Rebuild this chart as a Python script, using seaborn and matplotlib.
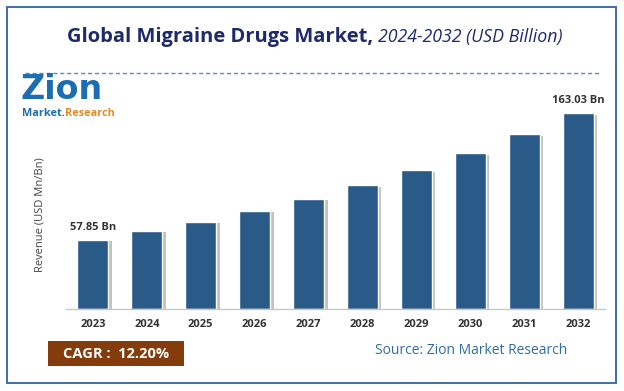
import matplotlib
matplotlib.use('Agg')
import matplotlib.pyplot as plt
import matplotlib.patheffects as pe
from matplotlib.patches import Rectangle
from matplotlib.text import Annotation
import pandas as pd
import seaborn as sns

# data
years = ['2023', '2024', '2025', '2026', '2027', '2028', '2029', '2030', '2031', '2032']
revenue = [57.85, 64.9, 72.8, 81.7, 91.7, 102.9, 115.4, 129.5, 145.3, 163.03]
bar_labels = {0: '57.85 Bn', 9: '163.03 Bn'}
cagr_text = 'CAGR :  12.20%'
source_text = 'Source: Zion Market Research'

BAR_COLOR = '#2A5A88'
NAVY = '#1F2A6B'

sns.set_style('white')
plt.rcParams['font.family'] = ['Open Sans', 'DejaVu Sans']

df = pd.DataFrame({'Year': years, 'Revenue': revenue})

fig = plt.figure(figsize=(6.24, 3.91), dpi=100)
W, H = 624, 391


def fx(px):
    return px / W


def fy(py):
    return 1 - py / H


# outer frame
fig.patches.append(Rectangle((fx(7), fy(383)), fx(616) - fx(7), fy(7) - fy(383),
                             transform=fig.transFigure, fill=False,
                             edgecolor='#3F6FA6', lw=1.4))

# dashed separator under title
fig.add_artist(plt.Line2D([fx(25), fx(600)], [fy(73), fy(73)], transform=fig.transFigure,
                          color='#5B8BC6', lw=1, ls=(0, (3, 2))))

# title in two parts
fig.text(fx(373), fy(37), 'Global Migraine Drugs Market,', ha='right', va='center',
         fontsize=14.5, fontweight='bold', color=NAVY)
fig.text(fx(378), fy(37), '2024-2032 (USD Billion)', ha='left', va='center',
         fontsize=12.8, fontstyle='italic', color=NAVY)

# logo (text approximation)
fig.text(fx(20), fy(99), 'Zion', ha='left', va='baseline', fontsize=24,
         fontweight='bold', color='#1C6DB4', family=['DejaVu Sans'])
t_market = fig.text(fx(22), fy(113), 'Market.', ha='left', va='center', fontsize=7.8,
                    fontweight='bold', color='#1C6DB4')
fig.add_artist(Annotation('Research', xy=(1, 0.5), xycoords=t_market, ha='left', va='center',
                          fontsize=7.8, fontweight='bold', color='#E58A1F'))

# chart
ax = fig.add_axes([fx(66), fy(309), fx(605) - fx(66), fy(100) - fy(309)])
sns.barplot(data=df, x='Year', y='Revenue', color=BAR_COLOR, width=0.575,
            saturation=1, ax=ax)
for p in ax.patches:
    p.set_path_effects([pe.SimplePatchShadow(offset=(2.5, -1), shadow_rgbFace='#9a9a9a', alpha=0.6),
                        pe.Normal()])

ax.set_ylim(0, 174)
ax.set_xlim(-0.5, len(years) - 0.5)
ax.set_yticks([])
ax.set_xlabel('')
ax.set_ylabel('')
for s in ['top', 'right', 'left']:
    ax.spines[s].set_visible(False)
ax.spines['bottom'].set_color('#C8C8C8')
ax.spines['bottom'].set_linewidth(1)
ax.tick_params(axis='x', length=0, pad=7)
for t in ax.get_xticklabels():
    t.set_fontsize(8)
    t.set_fontweight('bold')
    t.set_color('#333333')

for i, lab in bar_labels.items():
    ax.annotate(lab, (i, revenue[i]), xytext=(0, 5), textcoords='offset points',
                ha='center', va='bottom', fontsize=8, fontweight='bold', color='#333333')

fig.text(fx(40), fy(215), 'Revenue (USD Mn/Bn)', rotation=90, ha='center', va='center',
         fontsize=8, color='#444444')

# CAGR box
fig.patches.append(Rectangle((fx(48), fy(366)), fx(184) - fx(48), fy(341) - fy(366),
                             transform=fig.transFigure, facecolor='#843C0C', edgecolor='none'))
fig.text(fx(116), fy(354), cagr_text, ha='center', va='center', fontsize=10.5,
         fontweight='bold', color='white')

fig.text(fx(471), fy(350), source_text, ha='center', va='center', fontsize=10,
         color='#2E6DA8')

fig.savefig('out.png', dpi=100)
